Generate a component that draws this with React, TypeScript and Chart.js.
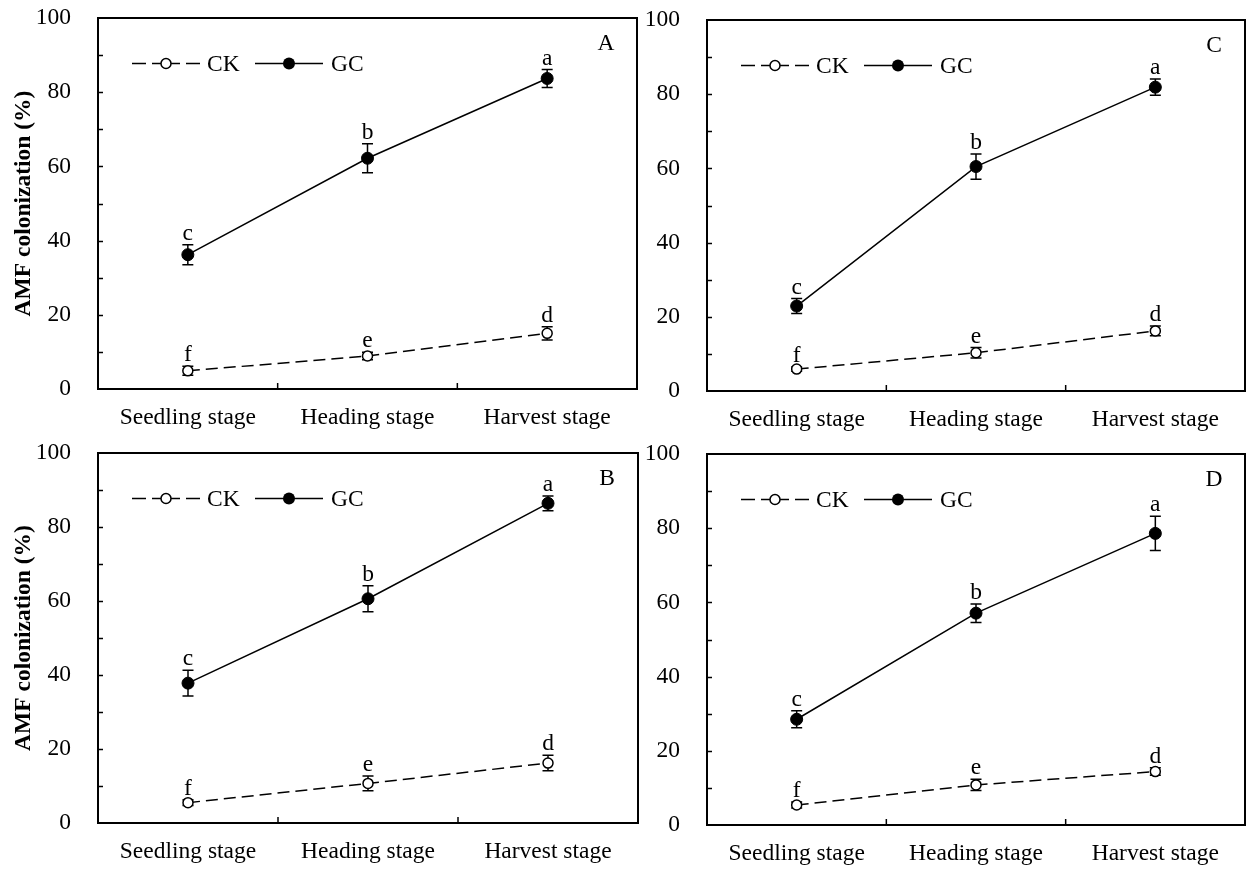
import React, { useEffect, useRef } from "react";
import { Chart, registerables } from "chart.js";

Chart.register(...registerables);

const FONT = "'Times New Roman', 'Liberation Serif', Times, serif";
const FS = 23.5;

const stages = ["Seedling stage", "Heading stage", "Harvest stage"];
const ckLetters = ["f", "e", "d"];
const gcLetters = ["c", "b", "a"];
const yTitle = "AMF colonization (%)";

// Panel A
const aCK = [4.9, 8.9, 15.0];
const aCKErr = [1.2, 1.0, 1.8];
const aGC = [36.2, 62.2, 83.7];
const aGCErr = [2.7, 3.9, 2.4];
// Panel C
const cCK = [5.9, 10.3, 16.2];
const cCKErr = [0.6, 1.4, 1.3];
const cGC = [22.9, 60.5, 81.9];
const cGCErr = [2.0, 3.4, 2.2];
// Panel B
const bCK = [5.5, 10.7, 16.2];
const bCKErr = [0.8, 2.0, 2.1];
const bGC = [37.8, 60.6, 86.4];
const bGCErr = [3.5, 3.5, 2.0];
// Panel D
const dCK = [5.4, 10.8, 14.4];
const dCKErr = [0.8, 1.5, 1.0];
const dGC = [28.5, 57.1, 78.6];
const dGCErr = [2.3, 2.5, 4.6];

type PanelProps = {
  left: number;
  top: number;
  width: number;
  height: number;
  area: { left: number; top: number; right: number; bottom: number };
  ck: number[];
  ckErr: number[];
  gc: number[];
  gcErr: number[];
  tag: string;
  showTitle: boolean;
};

function zeroPad(s: any) {
  s.paddingTop = 0;
  s.paddingBottom = 0;
  s.paddingLeft = 0;
  s.paddingRight = 0;
}

function Panel(p: PanelProps) {
  const ref = useRef<HTMLCanvasElement | null>(null);

  useEffect(() => {
    if (!ref.current) return;
    const decor = {
      id: "decor",
      beforeDatasetsDraw(chart: any) {
        const ctx = chart.ctx;
        const x = chart.scales.x;
        const y = chart.scales.y;
        ctx.save();
        ctx.strokeStyle = "#000";
        ctx.lineWidth = 1.5;
        ctx.setLineDash([]);
        const sets: [number[], number[]][] = [
          [p.ck, p.ckErr],
          [p.gc, p.gcErr],
        ];
        sets.forEach(([vals, errs]) => {
          vals.forEach((v, i) => {
            const px = x.getPixelForValue(i);
            const yt = y.getPixelForValue(v + errs[i]);
            const yb = y.getPixelForValue(v - errs[i]);
            ctx.beginPath();
            ctx.moveTo(px, yt);
            ctx.lineTo(px, yb);
            ctx.moveTo(px - 5.5, yt);
            ctx.lineTo(px + 5.5, yt);
            ctx.moveTo(px - 5.5, yb);
            ctx.lineTo(px + 5.5, yb);
            ctx.stroke();
          });
        });
        ctx.restore();
      },
      afterDatasetsDraw(chart: any) {
        const ctx = chart.ctx;
        const ca = chart.chartArea;
        const x = chart.scales.x;
        const y = chart.scales.y;
        ctx.save();
        ctx.strokeStyle = "#000";
        ctx.fillStyle = "#000";
        ctx.setLineDash([]);
        // frame
        ctx.lineWidth = 2;
        ctx.strokeRect(ca.left, ca.top, ca.right - ca.left, ca.bottom - ca.top);
        // inner y ticks
        ctx.lineWidth = 1.5;
        for (let v = 10; v < 100; v += 10) {
          const py = Math.round(y.getPixelForValue(v)) + 0.5;
          ctx.beginPath();
          ctx.moveTo(ca.left, py);
          ctx.lineTo(ca.left + 5, py);
          ctx.stroke();
        }
        // inner x ticks between categories
        for (let i = 0; i < stages.length - 1; i++) {
          const px = (x.getPixelForValue(i) + x.getPixelForValue(i + 1)) / 2;
          ctx.beginPath();
          ctx.moveTo(px, ca.bottom);
          ctx.lineTo(px, ca.bottom - 6);
          ctx.stroke();
        }
        // legend
        const L = ca.left;
        const ly = ca.top + 45.5;
        ctx.lineWidth = 1.5;
        ctx.setLineDash([14, 6]);
        ctx.beginPath();
        ctx.moveTo(L + 34, ly);
        ctx.lineTo(L + 68, ly);
        ctx.stroke();
        ctx.beginPath();
        ctx.moveTo(L + 102, ly);
        ctx.lineTo(L + 68, ly);
        ctx.stroke();
        ctx.setLineDash([]);
        ctx.beginPath();
        ctx.arc(L + 68, ly, 5, 0, Math.PI * 2);
        ctx.fillStyle = "#fff";
        ctx.fill();
        ctx.stroke();
        ctx.beginPath();
        ctx.moveTo(L + 157, ly);
        ctx.lineTo(L + 225, ly);
        ctx.stroke();
        ctx.beginPath();
        ctx.arc(L + 191, ly, 6, 0, Math.PI * 2);
        ctx.fillStyle = "#000";
        ctx.fill();
        ctx.font = `${FS}px ${FONT}`;
        ctx.textAlign = "left";
        ctx.textBaseline = "middle";
        ctx.fillText("CK", L + 109, ly + 1);
        ctx.fillText("GC", L + 233, ly + 1);
        // panel tag
        ctx.textAlign = "center";
        ctx.fillText(p.tag, ca.right - 31, ca.top + 26);
        // significance letters
        ctx.textBaseline = "alphabetic";
        const lsets: [number[], number[], string[]][] = [
          [p.ck, p.ckErr, ckLetters],
          [p.gc, p.gcErr, gcLetters],
        ];
        lsets.forEach(([vals, errs, letters]) => {
          vals.forEach((v, i) => {
            const px = x.getPixelForValue(i);
            const yt = y.getPixelForValue(v + errs[i]);
            ctx.fillText(letters[i], px, yt - 5);
          });
        });
        ctx.restore();
      },
    };

    const yWidth = p.area.left;
    const xHeight = p.height - p.area.bottom;

    const chart = new Chart(ref.current, {
      type: "line",
      data: {
        labels: stages,
        datasets: [
          {
            label: "GC",
            data: p.gc,
            borderColor: "#000",
            borderWidth: 1.5,
            pointRadius: 6,
            pointBackgroundColor: "#000",
            pointBorderColor: "#000",
            pointBorderWidth: 1,
            tension: 0,
            fill: false,
          },
          {
            label: "CK",
            data: p.ck,
            borderColor: "#000",
            borderWidth: 1.5,
            borderDash: [12, 6],
            pointRadius: 5,
            pointBackgroundColor: "#fff",
            pointBorderColor: "#000",
            pointBorderWidth: 1.5,
            tension: 0,
            fill: false,
          },
        ],
      },
      options: {
        animation: false,
        responsive: false,
        maintainAspectRatio: false,
        layout: {
          autoPadding: false,
          padding: {
            top: p.area.top,
            right: p.width - p.area.right,
            left: 0,
            bottom: 0,
          },
        },
        plugins: {
          legend: { display: false },
          tooltip: { enabled: false },
        },
        scales: {
          x: {
            type: "category",
            offset: true,
            grid: { display: false, drawTicks: false },
            border: { display: false },
            ticks: {
              color: "#000",
              font: { family: FONT, size: FS },
              padding: 15,
              maxRotation: 0,
              autoSkip: false,
            },
            afterFit: (s: any) => {
              s.height = xHeight;
              zeroPad(s);
            },
          },
          y: {
            min: 0,
            max: 100,
            grid: { display: false, drawTicks: false },
            border: { display: false },
            ticks: {
              stepSize: 20,
              color: "#000",
              font: { family: FONT, size: FS },
              padding: 27,
            },
            title: {
              display: p.showTitle,
              text: yTitle,
              color: "#000",
              font: { family: FONT, size: FS, weight: "bold" },
              padding: { top: 10, bottom: 0 },
            },
            afterFit: (s: any) => {
              s.width = yWidth;
              zeroPad(s);
            },
          },
        },
      },
      plugins: [decor],
    } as any);
    return () => chart.destroy();
  }, []);

  return (
    <canvas
      ref={ref}
      width={p.width}
      height={p.height}
      style={{
        position: "absolute",
        left: p.left,
        top: p.top,
        width: p.width,
        height: p.height,
      }}
    />
  );
}

export default function App() {
  return (
    <div
      style={{
        position: "absolute",
        left: 0,
        top: 0,
        width: 1246,
        height: 870,
        background: "#fff",
        overflow: "hidden",
      }}
    >
      <Panel
        left={0}
        top={0}
        width={640}
        height={440}
        area={{ left: 98, top: 18, right: 637, bottom: 389 }}
        ck={aCK}
        ckErr={aCKErr}
        gc={aGC}
        gcErr={aGCErr}
        tag="A"
        showTitle={true}
      />
      <Panel
        left={640}
        top={0}
        width={606}
        height={440}
        area={{ left: 67, top: 20, right: 605, bottom: 391 }}
        ck={cCK}
        ckErr={cCKErr}
        gc={cGC}
        gcErr={cGCErr}
        tag="C"
        showTitle={false}
      />
      <Panel
        left={0}
        top={440}
        width={640}
        height={430}
        area={{ left: 98, top: 13, right: 638, bottom: 383 }}
        ck={bCK}
        ckErr={bCKErr}
        gc={bGC}
        gcErr={bGCErr}
        tag="B"
        showTitle={true}
      />
      <Panel
        left={640}
        top={440}
        width={606}
        height={430}
        area={{ left: 67, top: 14, right: 605, bottom: 385 }}
        ck={dCK}
        ckErr={dCKErr}
        gc={dGC}
        gcErr={dGCErr}
        tag="D"
        showTitle={false}
      />
    </div>
  );
}
